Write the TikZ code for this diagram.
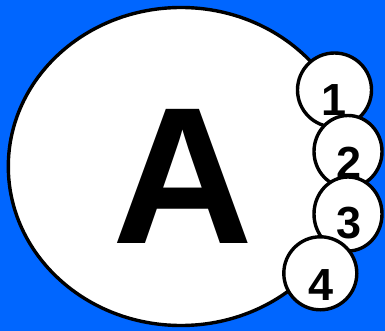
\documentclass[tikz,border=0pt]{standalone}
\usepackage{fontspec}
\setmainfont{Liberation Sans}
\usetikzlibrary{shapes.geometric}
\definecolor{bg}{RGB}{0,102,255}
\begin{document}
\begin{tikzpicture}[x=1pt,y=-1pt,
  blob/.style={ellipse,draw=black,fill=white,line width=3.4pt,inner sep=0pt,outer sep=0pt},
  digit/.style={inner sep=0pt,font=\fontsize{45}{45}\selectfont\bfseries}]
\fill[bg] (0,0) rectangle (385,331);
\useasboundingbox (0,0) rectangle (385,331);
\node[blob,minimum width=345.4pt,minimum height=318pt] (big) at (181,166.5) {};
\node[inner sep=0pt,font=\fontsize{195}{195}\selectfont\bfseries] (A) at (182.5,176) {A};
\node[blob,minimum width=74pt,minimum height=74pt] (c1) at (334.5,90) {};
\node[digit] (t1) at (334,99.7) {1};
\node[blob,minimum width=68pt,minimum height=72pt] (c2) at (348,151.5) {};
\node[digit] (t2) at (349,162.5) {2};
\node[blob,minimum width=68pt,minimum height=74pt] (c3) at (348,214) {};
\node[digit] (t3) at (349.5,223.3) {3};
\node[blob,minimum width=73pt,minimum height=73pt] (c4) at (320.3,273.3) {};
\node[digit] (t4) at (321,285.5) {4};
\end{tikzpicture}
\end{document}
